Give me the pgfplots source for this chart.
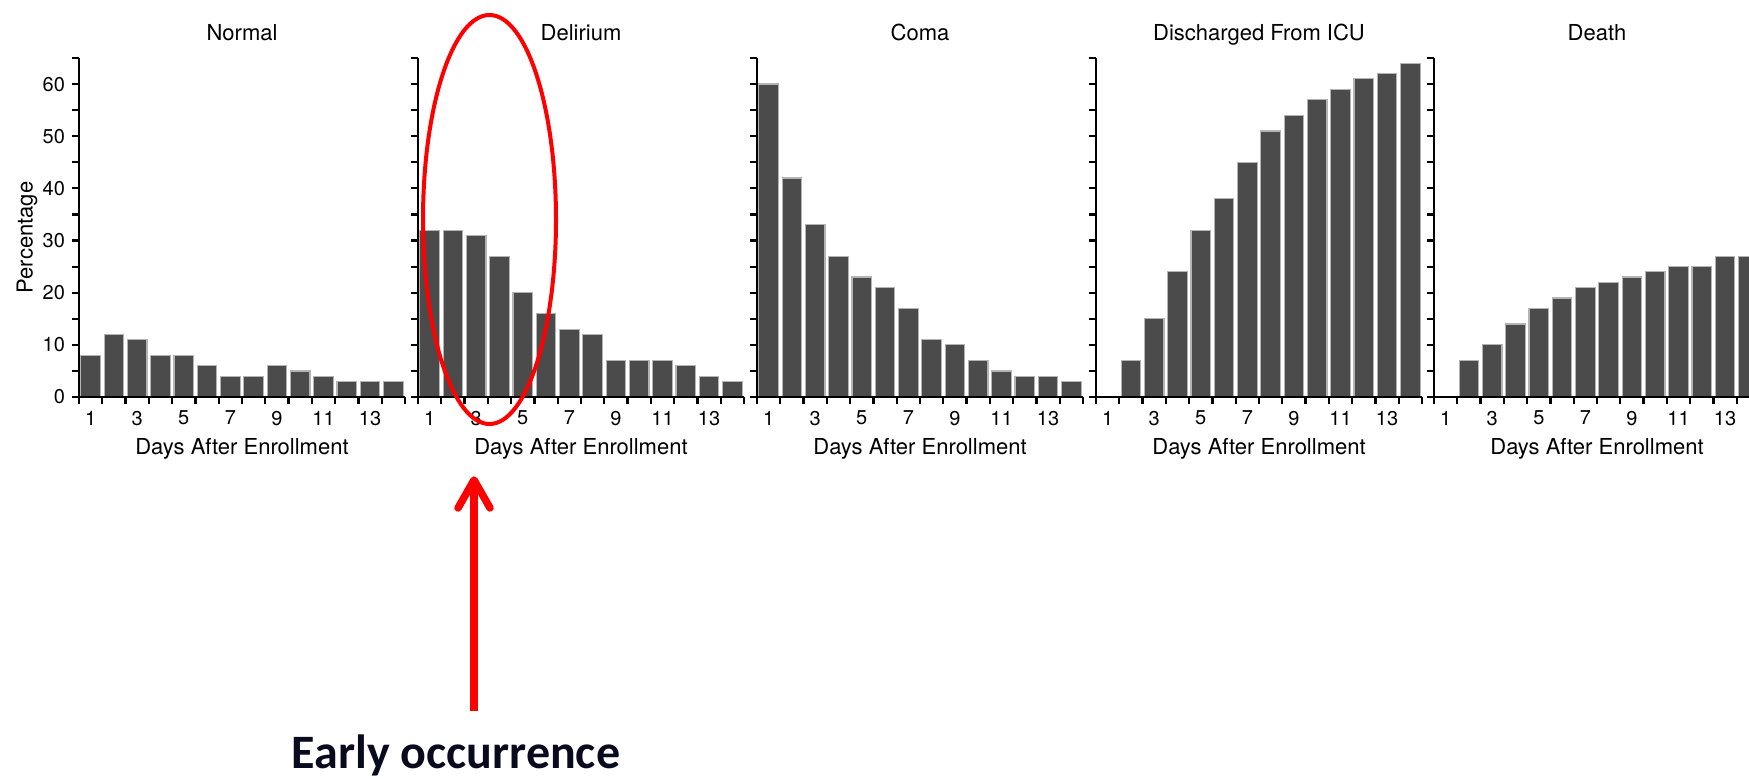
\documentclass[border=0pt]{standalone}
\usepackage{pgfplots}
\usepackage{pgfplotstable}
\pgfplotsset{compat=1.18}
\usepackage{fontspec}
\setmainfont{TeX Gyre Heros}
\newfontfamily\carlito{Carlito}
\definecolor{barfill}{HTML}{4B4B4B}
\definecolor{baredge}{HTML}{B4B4B4}
\definecolor{navy}{HTML}{0A0A1E}

\pgfplotstableread{
day normal delirium coma discharged death
1  8  32 60 0  0
2  12 32 42 7  7
3  11 31 33 15 10
4  8  27 27 24 14
5  8  20 23 32 17
6  6  16 21 38 19
7  4  13 17 45 21
8  4  12 11 51 22
9  6  7  10 54 23
10 5  7  7  57 24
11 4  7  5  59 25
12 3  6  4  61 25
13 3  4  4  62 27
14 3  3  3  64 27
}\datatable

\pgfplotsset{
  panel/.style={
    scale only axis, width=163pt, height=169.5pt,
    anchor=south west,
    axis on top,
    xmin=0.5, xmax=14.5, ymin=0, ymax=65,
    axis x line*=bottom, axis y line*=left,
    axis line style={line width=1.1pt},
    xtick={1,3,...,13},
    minor xtick={0.5,1.5,...,14.5},
    ytick={0,10,...,60},
    minor ytick={5,15,...,65},
    tick align=outside,
    major tick length=3.5pt, minor tick length=3.5pt,
    every tick/.style={line width=1.1pt, black},
    major x tick style={draw=none},
    /pgf/number format/assume math mode=true,
    tick label style={font=\fontsize{10}{12}\selectfont},
    title style={font=\fontsize{11}{13}\selectfont, at={(axis description cs:0.5,1.0177)}, anchor=base},
    xlabel={Days After Enrollment},
    xlabel style={font=\fontsize{11}{13}\selectfont, at={(axis description cs:0.5,-0.171)}, anchor=base},
    ybar, bar width=0.84,
  },
  barstyle/.style={fill=barfill, draw=baredge, line width=0.6pt},
}

\begin{document}
\begin{tikzpicture}
\useasboundingbox (0,0) rectangle (874.5pt,389pt);

\begin{axis}[panel, at={(39.5pt,190.5pt)}, title={Normal},
  ylabel={Percentage},
  ylabel style={font=\fontsize{11}{13}\selectfont, at={(axis description cs:-0.1595,0.4705)}, anchor=center}]
\addplot[barstyle] table[x=day, y=normal] {\datatable};
\end{axis}

\begin{axis}[panel, at={(209pt,190.5pt)}, title={Delirium}, yticklabels={}]
\addplot[barstyle] table[x=day, y=delirium] {\datatable};
\end{axis}

\begin{axis}[panel, at={(378.5pt,190.5pt)}, title={Coma}, yticklabels={}]
\addplot[barstyle] table[x=day, y=coma] {\datatable};
\end{axis}

\begin{axis}[panel, at={(548pt,190.5pt)}, title={Discharged From ICU}, yticklabels={}]
\addplot[barstyle, skip coords between index={0}{1}] table[x=day, y=discharged] {\datatable};
\end{axis}

\begin{axis}[panel, at={(717pt,190.5pt)}, title={Death}, yticklabels={}]
\addplot[barstyle, skip coords between index={0}{1}] table[x=day, y=death] {\datatable};
\end{axis}

\begin{scope}[x=0.5pt, y=-0.5pt, yshift=389pt]
  \draw[red, line width=2pt] (489.5,219.5) ellipse [x radius=33.25pt, y radius=102.25pt];
  \draw[red, line width=3.75pt, line cap=butt] (474,711) -- (474,484);
  \draw[red, line width=3.75pt, line cap=round, line join=round] (458,508) -- (474,480) -- (490,508);
  \node[anchor=base, inner sep=0pt, text=navy, font=\carlito\bfseries\fontsize{24}{28}\selectfont] at (456,768) {Early occurrence};
\end{scope}
\end{tikzpicture}
\end{document}
